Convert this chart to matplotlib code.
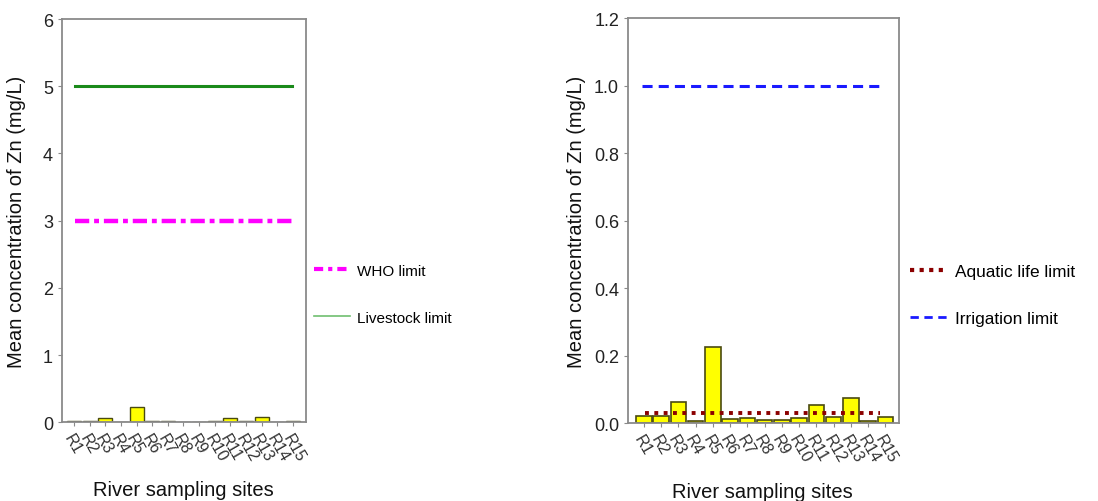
import matplotlib
matplotlib.use("Agg")
import matplotlib.pyplot as plt
from matplotlib.lines import Line2D

plt.rcParams['font.family'] = ['Liberation Sans', 'DejaVu Sans']

sites = ["R1", "R2", "R3", "R4", "R5", "R6", "R7", "R8", "R9", "R10",
         "R11", "R12", "R13", "R14", "R15"]
zn_mean = [0.022, 0.020, 0.062, 0.006, 0.225, 0.012, 0.015, 0.010, 0.010, 0.015,
           0.055, 0.017, 0.075, 0.007, 0.017]
who_limit = 3.0
livestock_limit = 5.0
aquatic_limit = 0.03
irrigation_limit = 1.0

fig = plt.figure(figsize=(10.98, 5.02), dpi=100)
ax1 = fig.add_axes([0.0565, 0.157, 0.222, 0.803])
ax2 = fig.add_axes([0.572, 0.155, 0.247, 0.807])

spine_c = '#8a8a8a'
x = list(range(len(sites)))

def style(ax):
    for s in ax.spines.values():
        s.set_color(spine_c)
        s.set_linewidth(1.3)
    ax.tick_params(axis='both', colors=spine_c, labelcolor='#222222', direction='out', length=3)
    ax.tick_params(axis='y', labelsize=13)
    ax.set_xticks(x)
    ax.set_xticklabels(sites, rotation=-60, ha='left', va='top', rotation_mode='anchor', fontsize=11.5,
                       color='#333333')
    ax.set_ylabel("Mean concentration of Zn (mg/L)", fontsize=14.5, color='#111111')

# Left panel
ax1.bar(x, zn_mean, width=0.9, color='#ffff00', edgecolor='#4a4a10', linewidth=1.0, zorder=2)
ax1.plot([0.05, 13.95], [who_limit, who_limit], color='#ff00ff', lw=3.2, dashes=(3.2, 1.1, 1.1, 1.1), zorder=3)
ax1.plot([0.05, 13.95], [livestock_limit, livestock_limit], color='#1a8a1a', lw=2.2, zorder=3)
ax1.set_xlim(-0.77, 14.83)
ax1.set_ylim(0, 6)
ax1.set_yticks([0, 1, 2, 3, 4, 5, 6])
style(ax1)
ax1.yaxis.set_label_coords(-0.148, 0.5)
fig.text(0.167, 0.022, "River sampling sites", ha='center', va='center', fontsize=14.5, color='#111111')

h1 = [Line2D([], [], color='#ff00ff', lw=3, dashes=(2.2, 1.2, 1, 1.2)),
      Line2D([], [], color='#6fbf6f', lw=1.2)]
fig.legend(h1, ["WHO limit", "Livestock limit"], loc='center left', bbox_to_anchor=(0.273, 0.412),
           frameon=False, fontsize=11, handlelength=2.4, labelspacing=2.15, handletextpad=0.45)

# Right panel
ax2.bar(x, zn_mean, width=0.9, color='#ffff00', edgecolor='#4a4a10', linewidth=1.2, zorder=2)
ax2.plot([0.1, 13.7], [aquatic_limit, aquatic_limit], color='#8b0000', lw=2.8, linestyle=(0, (1, 1.4)), zorder=3)
ax2.plot([-0.1, 13.65], [irrigation_limit, irrigation_limit], color='#1a1aff', lw=2.2, dashes=(3.3, 2.0), zorder=3)
ax2.set_xlim(-0.91, 14.8)
ax2.set_ylim(0, 1.2)
ax2.set_yticks([0.0, 0.2, 0.4, 0.6, 0.8, 1.0, 1.2])
ax2.set_yticklabels(["0.0", "0.2", "0.4", "0.6", "0.8", "1.0", "1.2"])
style(ax2)
ax2.yaxis.set_label_coords(-0.155, 0.5)
fig.text(0.694, 0.018, "River sampling sites", ha='center', va='center', fontsize=14.5, color='#111111')

h2 = [Line2D([], [], color='#8b0000', lw=3, linestyle=(0, (1, 1.3))),
      Line2D([], [], color='#1a1aff', lw=2, dashes=(3, 2))]
fig.legend(h2, ["Aquatic life limit", "Irrigation limit"], loc='center left', bbox_to_anchor=(0.815, 0.411),
           frameon=False, fontsize=12.4, handlelength=2.2, labelspacing=1.85, handletextpad=0.4)

fig.savefig("out.png", dpi=100)
